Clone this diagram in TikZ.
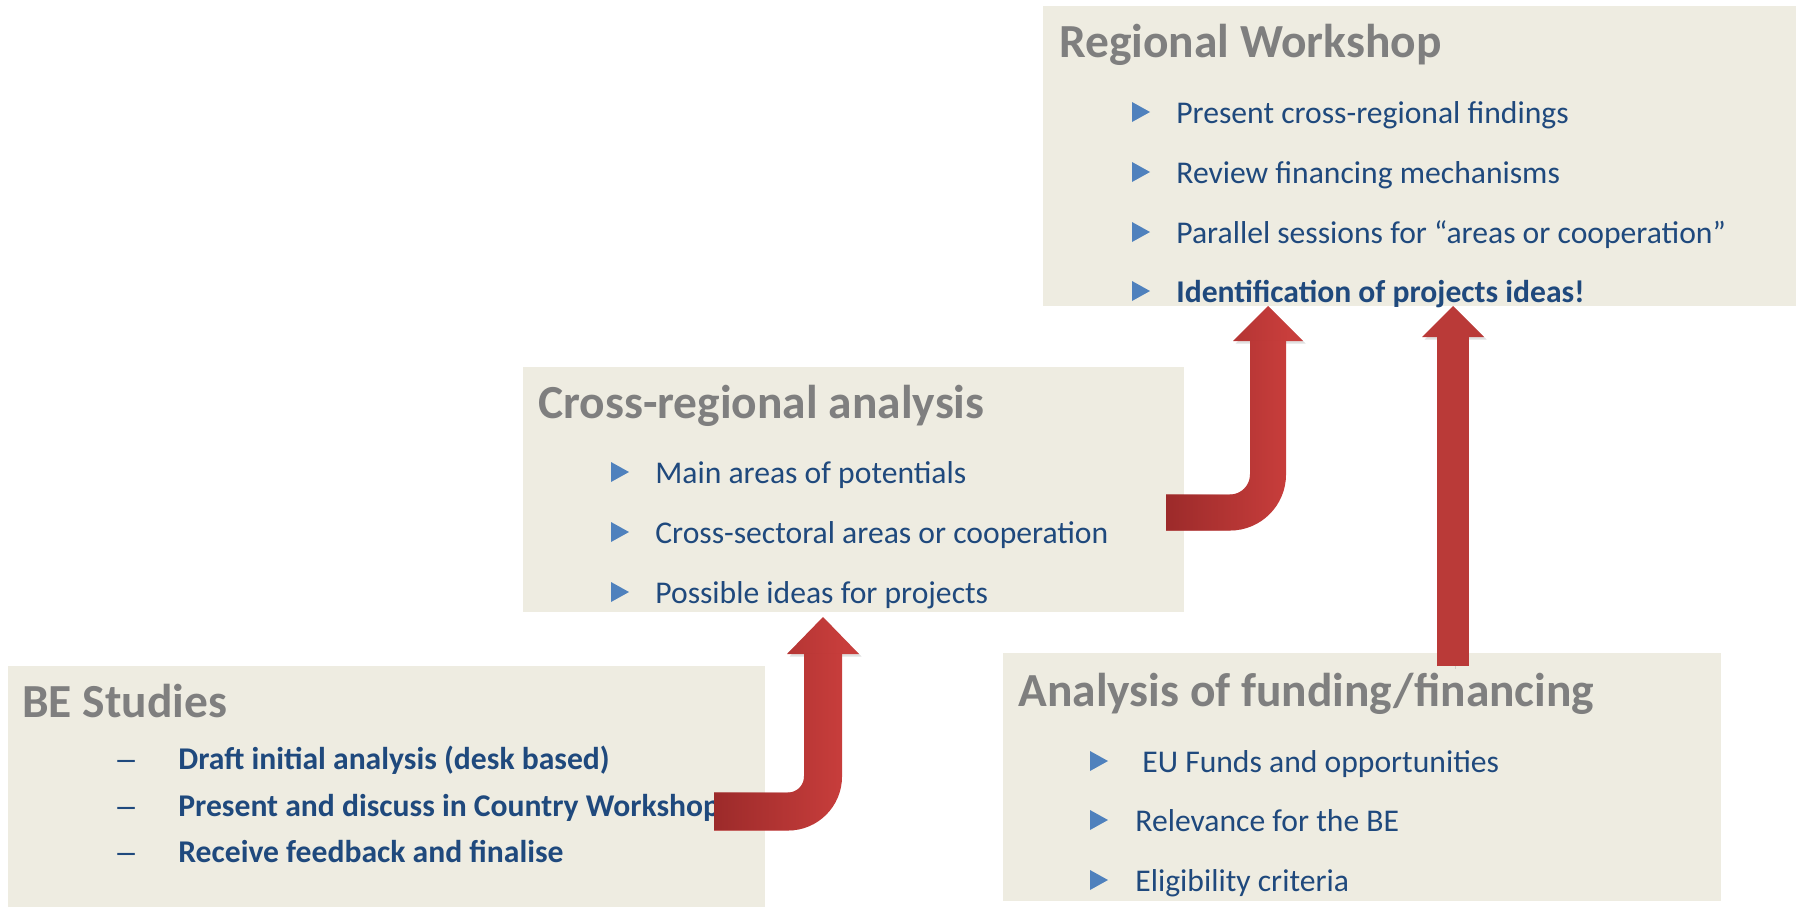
\documentclass[tikz,border=0pt]{standalone}
\usepackage{fontspec}
\setmainfont{Carlito}
\newfontfamily\dashfont{Liberation Sans}
\usetikzlibrary{arrows.meta,fadings}
\definecolor{eBox}{HTML}{EEECE1}
\definecolor{eGray}{HTML}{7F7F7F}
\definecolor{eText}{HTML}{1F497D}
\definecolor{eBullet}{HTML}{4F81BD}
\definecolor{eRed}{HTML}{C83E3C}
\definecolor{eDark}{HTML}{962828}
\tikzset{box/.style={fill=eBox, anchor=north west, inner sep=0pt}}
\tikzset{ttl/.style={anchor=base west, inner sep=0pt, text=eGray,
  font=\fontsize{27pt}{32pt}\selectfont\bfseries}}
\tikzset{item/.style={anchor=base west, inner sep=0pt, text=eText,
  font=\fontsize{18pt}{22pt}\selectfont}}
\tikzset{bitem/.style={item, font=\fontsize{18pt}{22pt}\selectfont\bfseries}}
\tikzset{dsh/.style={item, font=\fontsize{18pt}{22pt}\selectfont\dashfont}}
\tikzset{bul/.style={fill=eBullet}}
\tikzset{arrShadow/.style={preaction={draw=black, opacity=.12,
  transform canvas={shift={(.5mm,-.5mm)}}}}}
\tikzset{bentArr/.style={draw=eRed, arrShadow, rounded corners=7mm,
  postaction={draw=eDark, path fading=east}}}

\begin{document}
\begin{tikzpicture}[x=.2mm, y=-.2mm]
        \useasboundingbox (0,0) rectangle (1799,907);
        %% boxes
        \node (rw) at (1043,6) [box, minimum width=150.6mm, minimum height=60mm] {};
        \node (cr) at (523,367) [box, minimum width=132.2mm, minimum height=49mm] {};
        \node (be) at (8,666) [box, minimum width=151.4mm, minimum height=48.2mm] {};
        \node (af) at (1003,653) [box, minimum width=143.6mm, minimum height=49.6mm] {};
        %% titles
        \node (rwT) at (1059,57) [ttl] {Regional Workshop};
        \node (crT) at (538,418) [ttl] {Cross-regional analysis};
        \node (beT) at (22,717) [ttl] {BE Studies};
        \node (afT) at (1018,706) [ttl] {Analysis of funding/financing};
        %% bullets
        \foreach \y in {112,172,232,291}
            \fill[bul, shift={(1141,\y)}] (-9,-10) -- (9,0) -- (-9,10) -- cycle;
        \foreach \y in {472,532,592}
            \fill[bul, shift={(620,\y)}] (-9,-10) -- (9,0) -- (-9,10) -- cycle;
        \foreach \y in {761,820,880}
            \fill[bul, shift={(1099,\y)}] (-9,-10) -- (9,0) -- (-9,10) -- cycle;
        \node (rw1) at (1176,123) [item] {Present cross-regional findings};
        \node (rw2) at (1176,183) [item] {Review financing mechanisms};
        \node (rw3) at (1176,243) [item] {Parallel sessions for “areas or cooperation”};
        \node (rw4) at (1176,302) [bitem] {Identification of projects ideas!};
        \node (cr1) at (655,483) [item] {Main areas of potentials};
        \node (cr2) at (655,543) [item] {Cross-sectoral areas or cooperation};
        \node (cr3) at (655,603) [item] {Possible ideas for projects};
        \node (af1) at (1142,772) [item] {EU Funds and opportunities};
        \node (af2) at (1135,831) [item] {Relevance for the BE};
        \node (af3) at (1135,891) [item] {Eligibility criteria};
        \node (be1d) at (117,769) [dsh] {–};
        \node (be2d) at (117,816) [dsh] {–};
        \node (be3d) at (117,862) [dsh] {–};
        \node (be1) at (178,769) [bitem] {Draft initial analysis (desk based)};
        \node (be2) at (178,816) [bitem] {Present and discuss in Country Workshop};
        \node (be3) at (178,862) [bitem] {Receive feedback and finalise};
        %% arrows
        \coordinate (aTail) at (714,811.5);
        \coordinate (aTip) at (823,617);
        \coordinate (bTail) at (1166,512.5);
        \coordinate (bTip) at (1268,306);
        \coordinate (cTail) at (1453,666);
        \coordinate (cTip) at (1453,306);
        \draw[bentArr, line width=7.6mm,
            -{Triangle[width=14.4mm, length=7.4mm, line width=0pt]}] (aTail) -| (aTip);
        \draw[bentArr, line width=7.2mm, rounded corners=7.6mm,
            -{Triangle[width=14mm, length=7mm, line width=0pt]}] (bTail) -| (bTip);
        \draw[draw=eRed!93!black, arrShadow, line width=6.4mm,
            -{Triangle[width=12.4mm, length=6.2mm, line width=0pt]}] (cTail) -- (cTip);
\end{tikzpicture}
\end{document}
